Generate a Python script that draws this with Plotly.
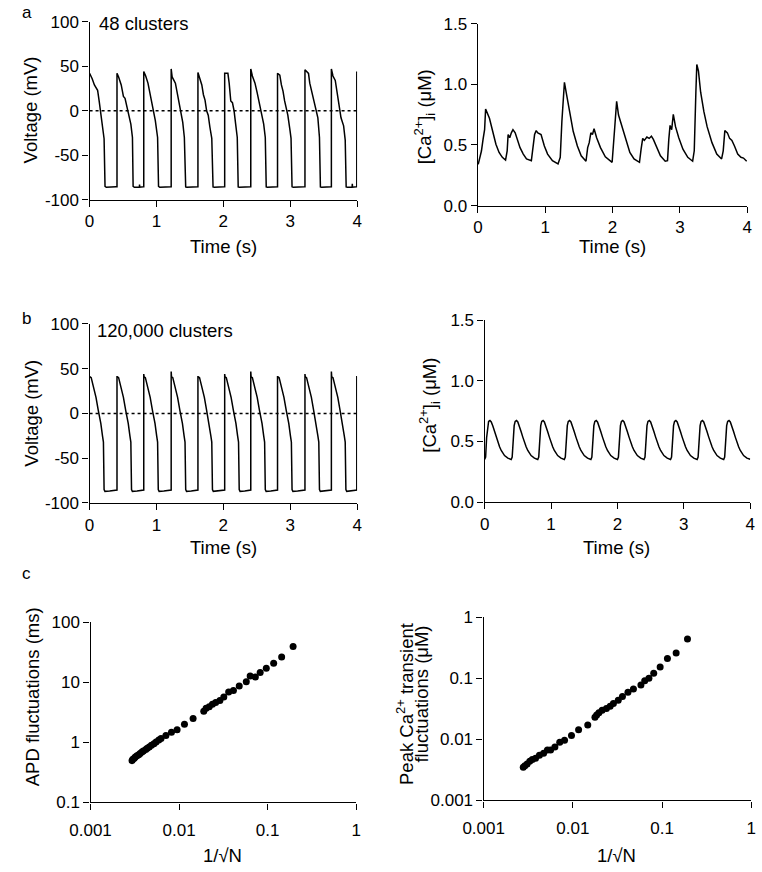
import plotly.graph_objects as go

# ---------------- DATA ----------------
# Panel a (48 clusters): voltage, beat onsets (s) and per-beat (dt, mV) shapes
a_onsets = [0.0, 0.41, 0.81, 1.22, 1.62, 2.02, 2.41, 2.81, 3.22, 3.615]
a_beats = [
    [(0, 42), (0.039, 36), (0.072, 29), (0.096, 25), (0.12, 23), (0.144, 10.6), (0.168, -4), (0.193, -19),
     (0.217, -31.5), (0.231, -85), (0.25, -86), (0.395, -85.5)],
    [(0, 42), (0.024, 38), (0.063, 29), (0.096, 16), (0.12, 14), (0.144, 5), (0.168, 0), (0.207, -15),
     (0.231, -30), (0.241, -85), (0.26, -86), (0.335, -86), (0.337, -83), (0.34, -86), (0.395, -85.5)],
    [(0, 44), (0.029, 39), (0.063, 31), (0.096, 18), (0.125, 5), (0.149, 0), (0.173, -11), (0.207, -30),
     (0.221, -85), (0.24, -86), (0.4, -85.5)],
    [(0, 47), (0.014, 38), (0.063, 31), (0.087, 22), (0.12, 11), (0.144, 0), (0.173, -13), (0.197, -30),
     (0.217, -85.5), (0.235, -86), (0.395, -85.5)],
    [(0, 43), (0.024, 38), (0.058, 29), (0.082, 18), (0.106, 12), (0.13, 0), (0.154, -5), (0.178, -18),
     (0.207, -31), (0.226, -85.5), (0.245, -86), (0.395, -85.5)],
    [(0, 42), (0.048, 42), (0.067, 31), (0.091, 11), (0.116, 9), (0.14, 0), (0.164, -15), (0.188, -30),
     (0.202, -85.5), (0.22, -86), (0.39, -85.5)],
    [(0, 47), (0.024, 39), (0.063, 31), (0.096, 20), (0.12, 11), (0.154, 0), (0.168, -5), (0.193, -15),
     (0.217, -30), (0.231, -85.5), (0.25, -86), (0.395, -85.5)],
    [(0, 42), (0.034, 40), (0.058, 29), (0.082, 22), (0.106, 11), (0.13, 2), (0.154, -5), (0.188, -23),
     (0.202, -31), (0.217, -85.5), (0.235, -86), (0.405, -85.5)],
    [(0, 46), (0.053, 42), (0.072, 31), (0.111, 18), (0.144, 7), (0.168, 0), (0.193, -8), (0.217, -30),
     (0.231, -85.5), (0.25, -86), (0.39, -85.5)],
    [(0, 47), (0.024, 39), (0.058, 34), (0.087, 18), (0.12, 0), (0.144, -8), (0.183, -17), (0.207, -33),
     (0.221, -85.5), (0.24, -86), (0.31, -86), (0.313, -82), (0.316, -86), (0.375, -85.5)],
]
a_last_upstroke = [(3.995, 44), (4.0, 42)]

# Panel a: [Ca2+]i (uM) trace
a_ca_t = [0.005, 0.029, 0.053, 0.077, 0.10, 0.115, 0.139, 0.172, 0.22, 0.268, 0.315, 0.363, 0.411,
          0.435, 0.449, 0.473, 0.497, 0.521, 0.554, 0.578, 0.626, 0.674, 0.722, 0.794,
          0.818, 0.842, 0.866, 0.89, 0.938, 0.987, 1.035, 1.107, 1.19,
          1.223, 1.247, 1.285, 1.319, 1.367, 1.415, 1.477, 1.534, 1.605,
          1.63, 1.653, 1.677, 1.701, 1.725, 1.763, 1.82, 1.892, 1.964, 1.993,
          2.031, 2.06, 2.088, 2.122, 2.16, 2.208, 2.256, 2.318, 2.399,
          2.423, 2.447, 2.471, 2.509, 2.543, 2.576, 2.605, 2.653, 2.71, 2.781, 2.815,
          2.834, 2.853, 2.877, 2.901, 2.934, 2.982, 3.044, 3.116, 3.188,
          3.212, 3.236, 3.25, 3.274, 3.307, 3.355, 3.403, 3.475, 3.546, 3.618,
          3.642, 3.666, 3.704, 3.737, 3.771, 3.809, 3.857, 3.905, 3.943, 3.99]
a_ca = [0.34, 0.40, 0.45, 0.546, 0.626, 0.796, 0.76, 0.72, 0.613, 0.506, 0.438, 0.398, 0.376,
        0.452, 0.586, 0.56, 0.60, 0.626, 0.60, 0.56, 0.478, 0.425, 0.385, 0.371,
        0.478, 0.586, 0.618, 0.60, 0.586, 0.492, 0.425, 0.371, 0.344,
        0.398, 0.694, 1.016, 0.908, 0.747, 0.613, 0.492, 0.411, 0.366,
        0.478, 0.519, 0.60, 0.586, 0.634, 0.56, 0.478, 0.403, 0.371, 0.357,
        0.64, 0.86, 0.747, 0.688, 0.613, 0.519, 0.438, 0.385, 0.357,
        0.465, 0.554, 0.538, 0.565, 0.554, 0.573, 0.546, 0.478, 0.411, 0.366, 0.371,
        0.546, 0.661, 0.626, 0.753, 0.651, 0.56, 0.465, 0.398, 0.366,
        0.452, 0.935, 1.164, 1.11, 0.935, 0.774, 0.651, 0.519, 0.425, 0.385,
        0.452, 0.618, 0.60, 0.554, 0.538, 0.492, 0.425, 0.398, 0.392, 0.366]

# Panel b (120,000 clusters): voltage
b_onsets = [0.0, 0.41, 0.81, 1.22, 1.62, 2.02, 2.41, 2.81, 3.22, 3.615]
b_peaks = [41, 41, 44, 47, 41, 44, 47, 41, 44, 47]
b_shape_dt = [0.005, 0.024, 0.048, 0.096, 0.13, 0.168, 0.193, 0.207, 0.217, 0.23, 0.3, 0.39]
b_shape_v = [41, 40, 32.5, 18, 3.6, -11, -25, -32, -85, -87, -86.5, -85.5]
b_last_upstroke = [(3.995, 41), (4.0, 41)]

# Panel b: [Ca2+]i
b_ca_onsets = [0.0, 0.4, 0.8, 1.2, 1.6, 2.0, 2.4, 2.8, 3.2, 3.6]
b_ca_shape_dt = [0, 0.015, 0.03, 0.045, 0.06, 0.08, 0.1, 0.125, 0.15, 0.175, 0.2, 0.225, 0.25, 0.275,
                 0.3, 0.35, 0.4]
b_ca_shape = [0.35, 0.37, 0.53, 0.63, 0.665, 0.672, 0.66, 0.625, 0.58, 0.535, 0.49, 0.455, 0.425, 0.40,
              0.383, 0.362, 0.352]

# Panel c: fluctuations vs 1/sqrt(N)
c_apd_x = [0.194, 0.144, 0.117, 0.0966, 0.0824, 0.0727, 0.0635, 0.0574, 0.0478, 0.0411, 0.0363, 0.032,
           0.0289, 0.0259, 0.0238, 0.0219, 0.0202, 0.019, 0.0144, 0.0115, 0.0095, 0.0082, 0.0071,
           0.00625, 0.0059, 0.0055, 0.0052, 0.00487, 0.0046, 0.00437, 0.0042, 0.00395, 0.0038, 0.00363,
           0.0035, 0.00334, 0.0032, 0.00312, 0.0030, 0.00294]
c_apd_y = [39.5, 26.5, 20.9, 17.1, 14.6, 12.3, 12.8, 10.2, 8.7, 7.3, 6.9, 5.7,
           5.0, 4.6, 4.3, 3.9, 3.7, 3.3, 2.5, 2.0, 1.62, 1.47, 1.3,
           1.16, 1.09, 1.01, 0.95, 0.89, 0.84, 0.80, 0.76, 0.72, 0.69, 0.65,
           0.62, 0.60, 0.57, 0.545, 0.52, 0.495]
c_ca_x = [0.193, 0.144, 0.115, 0.0953, 0.0807, 0.0713, 0.064, 0.058, 0.0478, 0.0415, 0.036, 0.0323,
          0.0285, 0.0262, 0.0238, 0.0213, 0.0196, 0.0185, 0.0177, 0.0147, 0.0116, 0.00966, 0.00807,
          0.00713, 0.00629, 0.00563, 0.00519, 0.0047, 0.00422, 0.00382, 0.00351, 0.00329, 0.00307,
          0.0029, 0.00278]
c_ca_y = [0.443, 0.261, 0.212, 0.154, 0.122, 0.101, 0.092, 0.078, 0.067, 0.0596, 0.0507, 0.0437,
          0.0387, 0.035, 0.0321, 0.0302, 0.0274, 0.0251, 0.0231, 0.0173, 0.0144, 0.0116, 0.0097,
          0.009, 0.0075, 0.0067, 0.0067, 0.0059, 0.0055, 0.0049, 0.00466, 0.0044, 0.00396,
          0.0037, 0.0035]

time_ticks = [0, 1, 2, 3, 4]
volt_ticks = [-100, -50, 0, 50, 100]
volt_ticktext = ["-100", "-50", "0", "50", "100"]
ca_ticks = [0.0, 0.5, 1.0, 1.5]
ca_ticktext = ["0.0", "0.5", "1.0", "1.5"]
log_x_ticks = [0.001, 0.01, 0.1, 1]
log_x_text = ["0.001", "0.01", "0.1", "1"]
apd_ticks = [0.1, 1, 10, 100]
apd_text = ["0.1", "1", "10", "100"]
ca_fl_ticks = [0.001, 0.01, 0.1, 1]
ca_fl_text = ["0.001", "0.01", "0.1", "1"]

# ---------------- build traces ----------------
def build_voltage(onsets, beats, last):
    xs, ys = [], []
    for i, (t0, beat) in enumerate(zip(onsets, beats)):
        if i > 0:
            xs.append(t0)
            ys.append(ys[-1])
        for dt, v in beat:
            xs.append(t0 + dt)
            ys.append(v)
    xs.append(last[0][0]); ys.append(ys[-1])
    for t, v in last:
        xs.append(t); ys.append(v)
    return xs, ys

a_vx, a_vy = build_voltage(a_onsets, a_beats, a_last_upstroke)
b_beats = []
for pk in b_peaks:
    b_beats.append([(0, pk)] + list(zip(b_shape_dt, b_shape_v)))
b_vx, b_vy = build_voltage(b_onsets, b_beats, b_last_upstroke)

b_cx, b_cy = [], []
for t0 in b_ca_onsets:
    for dt, c in zip(b_ca_shape_dt, b_ca_shape):
        b_cx.append(t0 + dt)
        b_cy.append(c)

W, H = 762, 872
FONT = "Liberation Sans, Arial, sans-serif"
TICK_SIZE = 17
TITLE_SIZE = 18.5
LINE = dict(color="black", width=1.5)

fig = go.Figure()
fig.add_trace(go.Scatter(x=[time_ticks[0], time_ticks[-1]], y=[0, 0], mode="lines",
                         line=dict(color="black", width=1.6, dash="dot"), xaxis="x", yaxis="y"))
fig.add_trace(go.Scatter(x=a_vx, y=a_vy, mode="lines", line=LINE, xaxis="x", yaxis="y"))
fig.add_trace(go.Scatter(x=a_ca_t, y=a_ca, mode="lines", line=LINE, xaxis="x2", yaxis="y2"))
fig.add_trace(go.Scatter(x=[time_ticks[0], time_ticks[-1]], y=[0, 0], mode="lines",
                         line=dict(color="black", width=1.6, dash="dot"), xaxis="x3", yaxis="y3"))
fig.add_trace(go.Scatter(x=b_vx, y=b_vy, mode="lines", line=LINE, xaxis="x3", yaxis="y3"))
fig.add_trace(go.Scatter(x=b_cx, y=b_cy, mode="lines", line=LINE, xaxis="x4", yaxis="y4"))
fig.add_trace(go.Scatter(x=c_apd_x, y=c_apd_y, mode="markers",
                         marker=dict(color="black", size=7), xaxis="x5", yaxis="y5"))
fig.add_trace(go.Scatter(x=c_ca_x, y=c_ca_y, mode="markers",
                         marker=dict(color="black", size=7), xaxis="x6", yaxis="y6"))


def dom_x(p0, p1):
    return [p0 / W, p1 / W]


def dom_y(top, bottom):
    return [1 - bottom / H, 1 - top / H]


axis_common = dict(showline=True, linecolor="black", linewidth=1.4, ticks="outside", ticklen=6,
                   tickwidth=1.4, tickcolor="black", showgrid=False, zeroline=False,
                   tickfont=dict(family=FONT, size=TICK_SIZE, color="black"), mirror=False)

layout = dict(width=W, height=H, margin=dict(l=0, r=0, t=0, b=0), showlegend=False,
              plot_bgcolor="white", paper_bgcolor="white", font=dict(family=FONT, color="black"))

# a-left
layout["xaxis"] = dict(domain=dom_x(71, 348), range=[0, 4], tickvals=time_ticks, anchor="y", **axis_common)
layout["yaxis"] = dict(domain=dom_y(13, 195), range=[-100, 100], tickvals=volt_ticks, ticktext=volt_ticktext,
                       anchor="x", **axis_common)
# a-right
layout["xaxis2"] = dict(domain=dom_x(473, 752), range=[0, 4], tickvals=time_ticks, anchor="y2", **axis_common)
layout["yaxis2"] = dict(domain=dom_y(15, 201), range=[0, 1.5], tickvals=ca_ticks, ticktext=ca_ticktext,
                        anchor="x2", **axis_common)
# b-left
layout["xaxis3"] = dict(domain=dom_x(71, 348), range=[0, 4], tickvals=time_ticks, anchor="y3", **axis_common)
layout["yaxis3"] = dict(domain=dom_y(322, 505), range=[-100, 100], tickvals=volt_ticks, ticktext=volt_ticktext,
                        anchor="x3", **axis_common)
# b-right
layout["xaxis4"] = dict(domain=dom_x(480, 755), range=[0, 4], tickvals=time_ticks, anchor="y4", **axis_common)
layout["yaxis4"] = dict(domain=dom_y(318, 504), range=[0, 1.5], tickvals=ca_ticks, ticktext=ca_ticktext,
                        anchor="x4", **axis_common)
# c-left
layout["xaxis5"] = dict(domain=dom_x(72, 347), type="log", range=[-3, 0], tickvals=log_x_ticks,
                        ticktext=log_x_text, anchor="y5", ticklabelstandoff=6, **axis_common)
layout["yaxis5"] = dict(domain=dom_y(627, 811), type="log", range=[-1, 2], tickvals=apd_ticks,
                        ticktext=apd_text, anchor="x5", **axis_common)
# c-right
layout["xaxis6"] = dict(domain=dom_x(479, 756), type="log", range=[-3, 0], tickvals=log_x_ticks,
                        ticktext=log_x_text, anchor="y6", ticklabelstandoff=6, **axis_common)
layout["yaxis6"] = dict(domain=dom_y(622, 809), type="log", range=[-3, 0], tickvals=ca_fl_ticks,
                        ticktext=ca_fl_text, anchor="x6", **axis_common)

fig.update_layout(**layout)

CA_TITLE = "[Ca<sup>2+</sup>]<sub>i</sub> (μM)"


def ann(text, px, py, angle=0, size=TITLE_SIZE, xanchor="center"):
    fig.add_annotation(text=text, x=px / W, y=1 - py / H, xref="paper", yref="paper", showarrow=False,
                       textangle=angle, xanchor=xanchor, yanchor="middle",
                       font=dict(family=FONT, size=size, color="black"))


# panel letters
ann("a", 6, 4, size=17)
ann("b", 6, 316, size=17)
ann("c", 6, 577, size=17)
# in-plot labels
ann("48 clusters", 79, 15, xanchor="left")
ann("120,000 clusters", 77, 329, xanchor="left")
# x titles
ann("Time (s)", 210, 243)
ann("Time (s)", 612, 243)
ann("Time (s)", 210, 551)
ann("Time (s)", 617, 551)
ann("1/√N", 209, 865)
ann("1/√N", 617, 865)
# y titles
ann("Voltage (mV)", 10, 103, angle=-90)
ann(CA_TITLE, 418, 110, angle=-90)
ann("Voltage (mV)", 10, 413, angle=-90)
ann(CA_TITLE, 423, 405, angle=-90)
ann("APD fluctuations (ms)", 12, 703, angle=-90)
ann("Peak Ca<sup>2+</sup> transient", 397, 710, angle=-90)
ann("fluctuations (μM)", 415, 700, angle=-90)

fig.write_html("out.html", config={"displayModeBar": False},
               post_script="document.body.style.margin='0';")
